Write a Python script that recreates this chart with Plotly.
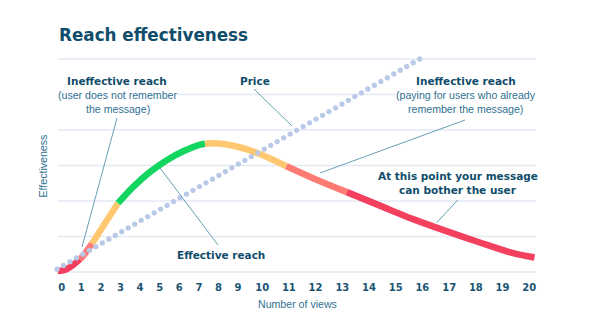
import numpy as np
import plotly.graph_objects as go

# ---------------- data ----------------
views = list(range(21))
tick_labels = [str(v) for v in views]
# axis position of each tick label (labels 10-20 are spaced wider in the original)
tick_pos = [0, 1, 2, 3, 4, 5, 6, 7, 8, 9,
            10.23, 11.59, 12.95, 14.32, 15.68, 17.04, 18.40, 19.77, 21.13, 22.49, 23.85]

# effectiveness curve (number of views, effectiveness)
curve_views = [-0.2, 0.17, 0.59, 0.93, 1.10, 1.55, 2.21, 2.87, 3.65, 4.51, 5.36, 6.20,
               7.06, 7.31, 7.8, 8.76, 9.77, 10.91, 12.04, 13.17, 14.41, 15.65, 16.90,
               18.15, 19.40, 20.2]
curve_eff = [0.03, 0.06, 0.20, 0.36, 0.46, 0.80, 1.37, 1.94, 2.40, 2.82, 3.15, 3.40,
             3.585, 3.615, 3.625, 3.555, 3.36, 2.98, 2.60, 2.25, 1.87, 1.49, 1.15,
             0.83, 0.53, 0.41]

segment_breaks = [-0.2, 0.93, 1.55, 2.87, 7.31, 10.91, 13.17, 20.2]
segment_colors = ["#f2405e", "#fd7b72", "#ffc76f", "#12d660", "#ffc76f", "#fd7b72", "#f2405e"]

# price line (number of views, price)
price_views = [-0.24, 15.9]
price_vals = [0.08, 6.0]

# ---------------- layout helpers ----------------
W, H = 592, 333
ML, MR, MT, MB = 45, 42, 50, 53
X0PX, XSTEP = 61.7, 19.6     # pixel of position 0, pixels per position unit
Y0PX, YSTEP = 272.0, 35.5    # pixel of effectiveness 0, pixels per unit


def to_pos(v):
    v = np.asarray(v, dtype=float)
    out = np.interp(v, views, tick_pos)
    out = np.where(v < 0, v, out)
    out = np.where(v > 20, tick_pos[-1] + (v - 20) * 1.362, out)
    return out


def pxx(px):
    return (px - ML) / (W - ML - MR)


def pxy(py):
    return (H - MB - py) / (H - MT - MB)


DARK = "#0f4d6b"
MID = "#2f7192"
LINEC = "#6b9db5"
BOLD = dict(family="DejaVu Sans", size=10.5, color=DARK, weight="bold")
REG = dict(family="Liberation Sans, Arial", size=10.6, color=MID)

fig = go.Figure()

# curve segments
cv = np.array(curve_views)
ce = np.array(curve_eff)
for i, col in enumerate(segment_colors):
    m = (cv >= segment_breaks[i] - 1e-9) & (cv <= segment_breaks[i + 1] + 1e-9)
    fig.add_trace(go.Scatter(
        x=to_pos(cv[m]), y=ce[m], mode="lines",
        line=dict(color=col, width=6.5, shape="spline", smoothing=0.9),
        hoverinfo="skip", showlegend=False))

# price dotted line
p0, p1 = to_pos(price_views)
n_dots = 57
fig.add_trace(go.Scatter(
    x=np.linspace(p0, p1, n_dots), y=np.linspace(price_vals[0], price_vals[1], n_dots),
    mode="markers", marker=dict(color="#b9c9e7", size=5.3),
    hoverinfo="skip", showlegend=False))

shapes = []
for g in range(7):
    shapes.append(dict(type="line", xref="paper", yref="y", x0=pxx(58), x1=pxx(536),
                       y0=g, y1=g, line=dict(color="#e3e9f3", width=1.3), layer="below"))

pointers = [((117, 118), (82, 247)),
            ((254, 89), (292, 126)),
            ((160, 168), (218, 245)),
            ((465, 120), (320, 173)),
            ((457.7, 200), (436.7, 222.7))]
for (xa, ya), (xb, yb) in pointers:
    shapes.append(dict(type="line", xref="paper", yref="paper",
                       x0=pxx(xa), y0=pxy(ya), x1=pxx(xb), y1=pxy(yb),
                       line=dict(color=LINEC, width=1)))

annotations = []


def label(text, px, py, font, bg=None, angle=0):
    d = dict(text=text, xref="paper", yref="paper", x=pxx(px), y=pxy(py),
             xanchor="center", yanchor="middle", showarrow=False, font=font,
             textangle=angle, borderpad=0)
    if bg:
        d["bgcolor"] = bg
    annotations.append(d)


# title
annotations.append(dict(text="Reach effectiveness", xref="paper", yref="paper",
                        x=pxx(57), y=pxy(35), xanchor="left", yanchor="middle",
                        showarrow=False,
                        font=dict(family="DejaVu Sans", size=16.8, color=DARK, weight="bold")))

label("Ineffective reach", 117, 80.5, BOLD)
label("(user does not remember", 117.5, 95, REG, bg="white")
label("the message)", 117.5, 109.5, REG)
label("Price", 254.5, 80.5, BOLD)
label("Ineffective reach", 465.7, 80.5, BOLD)
label("(paying for users who already", 465.5, 94.5, REG, bg="white")
label("remember the message)", 465.5, 109, REG)
label("Effective reach", 221, 254.5, BOLD)
label("At this point your message", 457.5, 175.7, BOLD)
label("can bother the user", 458, 189.5, BOLD)
label("Number of views", 297.5, 304, REG)
label("Effectiveness", 42, 166.5, REG, angle=-90)

fig.update_layout(
    width=W, height=H, autosize=False,
    margin=dict(l=ML, r=MR, t=MT, b=MB, pad=0),
    paper_bgcolor="white", plot_bgcolor="white",
    shapes=shapes, annotations=annotations,
    xaxis=dict(range=[(ML - X0PX) / XSTEP, (W - MR - X0PX) / XSTEP],
               tickvals=tick_pos, ticktext=tick_labels, showgrid=False, zeroline=False,
               showline=False, ticks="", fixedrange=True,
               tickfont=dict(family="DejaVu Sans", size=10, color="#1a5473", weight="bold")),
    yaxis=dict(range=[(Y0PX - (H - MB)) / YSTEP, (Y0PX - MT) / YSTEP],
               showgrid=False, zeroline=False, showline=False, showticklabels=False,
               ticks="", fixedrange=True),
)

fig.write_html("out.html")
